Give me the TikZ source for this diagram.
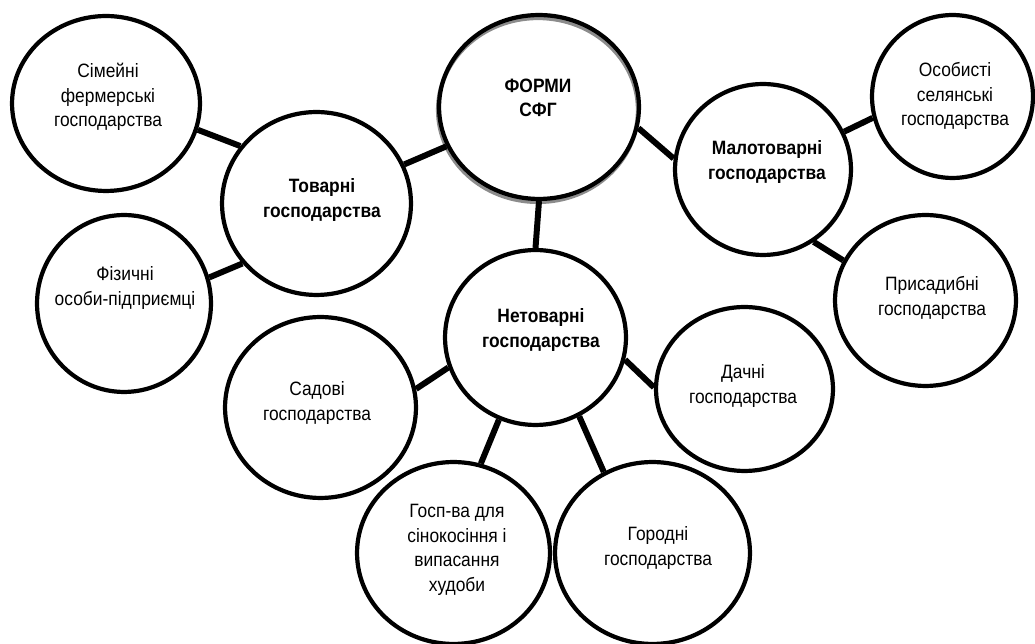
\documentclass[tikz,border=0pt]{standalone}
\usepackage{fontspec}
\setmainfont{Liberation Sans}[FakeStretch=0.9]
\usepackage{tikz}
\usetikzlibrary{shapes.geometric}

\tikzset{
    ell/.style 2 args={ellipse, draw, line width=2.4pt, inner sep=0pt,
        minimum width=#1*0.04cm, minimum height=#2*0.04cm},
    txt/.style={align=center, inner sep=0pt, font=\fontsize{11}{14}\selectfont},
    hdr/.style={align=center, inner sep=0pt, font=\fontsize{11}{14}\selectfont\bfseries},
    link/.style={line width=3.4pt},
}

\begin{document}
\begin{tikzpicture}[x=0.02cm, y=-0.02cm]
    \useasboundingbox (0, 0) rectangle (1035, 644);

    \node[ell={100}{92}, draw=black!45] (formsh) at (538, 110) {};
    \node[ell={100}{92}] (form) at (539, 107) {};
    \node[hdr] (formt) at (538, 98) {ФОРМИ\\СФГ};

    \node[ell={94}{87.5}] (sim) at (106, 103.5) {};
    \node[txt] (simt) at (108, 97) {Сімейні\\фермерські\\господарства};

    \node[ell={94.5}{91.5}] (tov) at (316.5, 203.5) {};
    \node[hdr] (tovt) at (322, 200) {Товарні\\господарства};

    \node[ell={87}{88.5}] (fiz) at (124, 303.5) {};
    \node[txt] (fizt) at (125, 288) {Фізичні\\особи-підприємці};

    \node[ell={88}{85.5}] (mal) at (763, 169.5) {};
    \node[hdr] (malt) at (767, 162) {Малотоварні\\господарства};

    \node[ell={80.5}{81.5}] (oso) at (952.5, 96.5) {};
    \node[txt] (osot) at (955, 96) {Особисті\\селянські\\господарства};

    \node[ell={90.5}{85.5}] (pris) at (925.5, 300.5) {};
    \node[txt] (prist) at (932, 298) {Присадибні\\господарства};

    \node[ell={90.5}{87.5}] (net) at (535.5, 337.5) {};
    \node[hdr] (nett) at (541, 330) {Нетоварні\\господарства};

    \node[ell={95.5}{90.5}] (sad) at (320.5, 407.5) {};
    \node[txt] (sadt) at (317, 403) {Садові\\господарства};

    \node[ell={88.5}{82}] (dach) at (744.5, 389) {};
    \node[txt] (dacht) at (743, 386) {Дачні\\господарства};

    \node[ell={96.5}{91}] (gosp) at (453.5, 553) {};
    \node[txt] (gospt) at (457, 550) {Госп-ва для\\сінокосіння і\\випасання\\худоби};

    \node[ell={97.5}{91}] (gor) at (652.5, 553) {};
    \node[txt] (gort) at (658, 548) {Городні\\господарства};

    \draw[link] (sim.-16) -- (tov.143);
    \draw[link] (tov.24) -- (form.-157);
    \draw[link] (form.-12) -- (mal.173);
    \draw[link] (form.south) -- (net.north);
    \draw[link] (mal.25) -- (oso.-165);
    \draw[link] (mal.-55) -- (pris.154);
    \draw[link] (tov.-141) -- (fiz.17);
    \draw[link] (net.-161) -- (sad.11);
    \draw[link] (net.-114) -- (gosp.73);
    \draw[link] (net.-61) -- (gor.121);
    \draw[link] (net.-14) -- (dach.179);
\end{tikzpicture}
\end{document}
